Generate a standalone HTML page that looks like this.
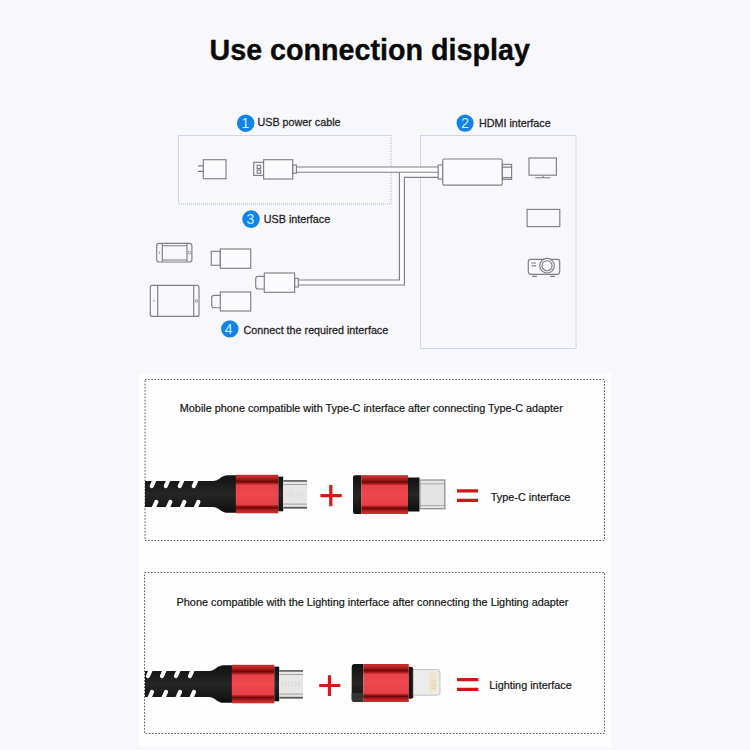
<!DOCTYPE html>
<html><head><meta charset="utf-8">
<style>
html,body{margin:0;padding:0;width:750px;height:750px;overflow:hidden;background:#f7f7fc;}
svg{position:absolute;left:0;top:0;display:block;}
text{font-family:"Liberation Sans",sans-serif;}
</style></head>
<body>
<svg width="750" height="750" viewBox="0 0 750 750">
<defs>
  <linearGradient id="redA" x1="0" y1="0" x2="0" y2="1">
    <stop offset="0" stop-color="#c43030"/>
    <stop offset="0.06" stop-color="#c02828"/>
    <stop offset="0.12" stop-color="#a01616"/>
    <stop offset="0.175" stop-color="#6a0808"/>
    <stop offset="0.23" stop-color="#b42222"/>
    <stop offset="0.27" stop-color="#e8424a"/>
    <stop offset="0.5" stop-color="#ee474c"/>
    <stop offset="0.77" stop-color="#e64046"/>
    <stop offset="0.815" stop-color="#a01818"/>
    <stop offset="0.855" stop-color="#6a0808"/>
    <stop offset="0.9" stop-color="#a41818"/>
    <stop offset="0.95" stop-color="#c42a2a"/>
    <stop offset="1" stop-color="#c83434"/>
  </linearGradient>
  <linearGradient id="blk" x1="0" y1="0" x2="0" y2="1">
    <stop offset="0" stop-color="#111"/>
    <stop offset="0.5" stop-color="#262626"/>
    <stop offset="1" stop-color="#0e0e0e"/>
  </linearGradient>
</defs>

<!-- title highlight -->
<rect x="205" y="38" width="228" height="26" fill="#f9f9fb"/>
<text x="209.5" y="60.3" font-size="28.7" font-weight="bold" fill="#0a0a0a" stroke="#0a0a0a" stroke-width="0.35">Use connection display</text>

<!-- ===== top diagram ===== -->
<g fill="none" stroke="#96bed4" stroke-width="1" stroke-dasharray="1 1">
  <rect x="178.5" y="135.5" width="212.5" height="68.5"/>
  <rect x="420.5" y="135.5" width="155.5" height="213"/>
</g>

<!-- line art -->
<path d="M296.4 167H438.2V177.4H404.4V285H298.3V280H399.4V172.2H296.4Z" fill="#fcfcfe"/>
<g fill="none" stroke="#808080" stroke-width="1.15">
  <!-- charger -->
  <rect x="203.3" y="159.7" width="22.7" height="19" fill="#fbfbfd"/>
  <path d="M198 165.8H203.3M198 171.4H203.3"/>
  <!-- usb A -->
  <rect x="253.7" y="162.3" width="9.9" height="13.1"/>
  <rect x="257.2" y="165.3" width="3.4" height="3.2"/>
  <rect x="257.2" y="170" width="3.4" height="3.2"/>
  <rect x="263.6" y="159.7" width="29.1" height="19.3" fill="#fbfbfd"/>
  <rect x="292.7" y="165" width="3.7" height="8.3"/>
  <!-- cables -->
  <path d="M296.4 167H438.2M296.4 172.2H438.2"/>
  <path d="M298.3 280H399.4V172.2"/>
  <path d="M298.3 285H404.4V177.4H438.2"/>
  <!-- hdmi -->
  <rect x="438.2" y="165" width="4.6" height="14"/>
  <rect x="442.8" y="159" width="59.5" height="26.1" rx="1.3" fill="#fbfbfd"/>
  <rect x="502.3" y="164.4" width="9.3" height="15"/>
  <path d="M502.3 167.1H511.6M502.3 177.6H511.6"/>
  <!-- monitor -->
  <rect x="529" y="158" width="27.4" height="17.2"/>
  <path d="M543 175.2V177.7M535.2 177.7H550.5"/>
  <!-- tv -->
  <rect x="527.1" y="209.4" width="32.7" height="17.2"/>
  <!-- projector -->
  <rect x="528.3" y="259.3" width="31.4" height="15" rx="2.5"/>
  <circle cx="547" cy="265.7" r="7.3" fill="#f7f7fc"/>
  <circle cx="547" cy="265.7" r="5"/>
  <path d="M531.5 263H536M531.5 265.8H536M532 276.4H537M550 276.4H555"/>
  <!-- phone -->
  <rect x="156.7" y="243.3" width="35.2" height="18.7" rx="2.5"/>
  <path d="M162.3 243.3V262M187 243.3V262M162.3 245.7H187M162.3 260H187"/>
  <!-- tablet -->
  <rect x="150.3" y="285.3" width="48.7" height="31.1" rx="2"/>
  <path d="M157.7 285.3V316.4M193.7 285.3V316.4"/>
  <circle cx="189.5" cy="252.6" r="1.4" stroke-width="0.8"/>
  <circle cx="196.3" cy="300.8" r="1.2" stroke-width="0.8"/>
  <path d="M159.6 251.5V253.8M153.9 300V301.6" stroke-width="0.8"/>
  <!-- connectors -->
  <rect x="211.3" y="251.3" width="9" height="14"/>
  <rect x="220.3" y="249" width="30.4" height="19.3" fill="#fbfbfd"/>
  <path d="M220.3 295.3H214.2Q211.7 295.3 211.7 297.8V305.2Q211.7 307.7 214.2 307.7H220.3"/>
  <rect x="220.3" y="292" width="30.4" height="19" fill="#fbfbfd"/>
  <path d="M264.3 276.3H258.2Q255.7 276.3 255.7 278.8V286.5Q255.7 289 258.2 289H264.3"/>
  <rect x="264.3" y="273" width="30.3" height="19.3" fill="#fbfbfd"/>
  <rect x="294.6" y="278.4" width="3.7" height="8.6"/>
</g>

<g fill="#1284e8">
  <circle cx="245.7" cy="123.2" r="8.7"/>
  <circle cx="465.1" cy="123.1" r="8.6"/>
  <circle cx="251" cy="219.1" r="8.8"/>
  <circle cx="229.8" cy="328.9" r="8.7"/>
</g>
<g fill="#c8f2ff" font-size="14" text-anchor="middle">
  <text x="245.3" y="127.7">1</text>
  <text x="465.1" y="127.8">2</text>
  <text x="250.5" y="223.7">3</text>
  <text x="228.6" y="333.7">4</text>
</g>
<g fill="#1e1e1e" font-size="10.75" stroke="#1e1e1e" stroke-width="0.26">
  <text x="257.5" y="125.7">USB power cable</text>
  <text x="479" y="127">HDMI interface</text>
  <text x="263.8" y="223.3">USB interface</text>
  <text x="243.6" y="333.7">Connect the required interface</text>
</g>

<!-- ===== bottom panels ===== -->
<rect x="139" y="374" width="472" height="372" fill="#fefefe"/>
<g fill="none" stroke="#5a5a5a" stroke-width="1" stroke-dasharray="1.6 1.6">
  <rect x="145" y="379.5" width="459.5" height="161"/>
  <rect x="144.5" y="572.5" width="460" height="161"/>
</g>
<!-- cable 1 -->
<g id="cab">
  <path d="M145 481H212.5C219.5 481 220.5 475.2 228 475.2H237V512.8H228C220.5 512.8 219.5 507.1 212.5 507.1H145Z" fill="url(#blk)"/>
  <g stroke="#fefefe" stroke-width="4.2" stroke-linecap="round" fill="none">
    <path d="M155.8 477L151.8 486M169.8 477L165.8 486M183.8 477L179.8 486M197.8 477L193.8 486"/>
    <path d="M156.3 502L152.3 511M170.3 502L166.3 511M184.3 502L180.3 511M198.3 502L194.3 511"/>
  </g>
  <rect x="235.8" y="474.8" width="42.5" height="38.5" fill="url(#redA)"/>
  <rect x="278.3" y="476.6" width="4.9" height="34.7" fill="url(#blk)"/>
  <rect x="283.2" y="480" width="23.8" height="29" fill="#e6e6e6"/>
  <rect x="283.2" y="480" width="23.8" height="1.8" fill="#6a6a6a"/>
  <rect x="283.2" y="484" width="23.8" height="0.9" fill="#9a9a9a"/>
  <rect x="283.2" y="503.6" width="23.8" height="1" fill="#a0a0a0"/>
  <rect x="283.2" y="506.8" width="23.8" height="1.8" fill="#5a5a5a"/>
  <path d="M286 491.5V496.5M286 494H290M290 491.5V496.5M292.5 491.5V495Q292.5 496.5 294.5 496.5Q296.5 496.5 296.5 495V491.5M299 496.5V491.5L303 496.5V491.5" stroke="#d6d6d6" stroke-width="0.65" fill="none"/>
</g>
<!-- plus 1 -->
<path d="M320.4 495.7H341.7M330.8 485V506.3" stroke="#d41a1a" stroke-width="3.2"/>
<!-- adapter 1 -->
<path d="M355 475.2H361.5V514H355Q353 514 353 512V477.2Q353 475.2 355 475.2Z" fill="url(#blk)"/>
<rect x="361.5" y="475.2" width="46.5" height="38.8" fill="url(#redA)"/>
<rect x="408" y="477.5" width="11.5" height="34" fill="url(#blk)"/>
<rect x="419.9" y="480" width="25" height="28.8" fill="#e4e4e4" stroke="#777" stroke-width="1"/>
<path d="M420 483.8H445M420 505.6H445" stroke="#9a9a9a" stroke-width="0.8"/>
<!-- equals 1 -->
<path d="M457 490.8H478M457 500.4H478" stroke="#cc1818" stroke-width="3.2"/>

<!-- cable 2 -->
<g transform="translate(-4 190)">
  <path d="M149 481H212.5C219.5 481 220.5 475.2 228 475.2H237V512.8H228C220.5 512.8 219.5 506.9 212.5 506.9H149Z" fill="url(#blk)"/>
  <g stroke="#fefefe" stroke-width="4.2" stroke-linecap="round" fill="none">
    <path d="M156 477L152 486M170 477L166 486M184 477L180 486M198 477L194 486"/>
    <path d="M156 502L152 511M170 502L166 511M184 502L180 511M198 502L194 511"/>
  </g>
  <rect x="235.8" y="474.8" width="42.5" height="38.5" fill="url(#redA)"/>
  <rect x="278.3" y="476.6" width="4.9" height="34.7" fill="url(#blk)"/>
  <rect x="283.2" y="480" width="23.8" height="29" fill="#e6e6e6"/>
  <rect x="283.2" y="480" width="23.8" height="1.8" fill="#6a6a6a"/>
  <rect x="283.2" y="484" width="23.8" height="0.9" fill="#9a9a9a"/>
  <rect x="283.2" y="503.6" width="23.8" height="1" fill="#a0a0a0"/>
  <rect x="283.2" y="506.8" width="23.8" height="1.8" fill="#5a5a5a"/>
  <path d="M286 491.5V496.5M286 494H290M290 491.5V496.5M292.5 491.5V495Q292.5 496.5 294.5 496.5Q296.5 496.5 296.5 495V491.5M299 496.5V491.5L303 496.5V491.5" stroke="#d6d6d6" stroke-width="0.65" fill="none"/>
</g>
<!-- plus 2 -->
<path d="M319.2 685.5H340.3M329.5 675.2V696" stroke="#d41a1a" stroke-width="3.2"/>
<!-- adapter 2 -->
<path d="M354.7 664H363.4V702H354.7Q351.7 702 351.7 699V667Q351.7 664 354.7 664Z" fill="url(#blk)"/>
<path d="M351.7 693H363.4V702H354.7Q351.7 702 351.7 699Z" fill="#343434"/>
<rect x="363.4" y="664" width="45.3" height="38" fill="url(#redA)"/>
<path d="M408.7 666.7H410.8Q413.3 666.7 413.3 669.2V696.2Q413.3 698.7 410.8 698.7H408.7Z" fill="#241010"/>
<path d="M413.3 669.6H437.2Q440 669.6 440 672.4V692.4Q440 695.2 437.2 695.2H413.3Z" fill="#ececec" stroke="#b8b8b8" stroke-width="0.8"/>
<rect x="428.6" y="672.5" width="8" height="20" rx="2" fill="#eee6d2"/>
<path d="M431 680.5H436M431 682.5H436M431 684.5H436M431 686.5H436M431 688.5H436" stroke="#e6d6aa" stroke-width="0.9"/>
<!-- equals 2 -->
<path d="M457 679.6H478.4M457 689.4H478.4" stroke="#cc1818" stroke-width="3.2"/>

<g fill="#141414" font-size="10.85" stroke="#141414" stroke-width="0.2">
  <text x="179.8" y="412.2">Mobile phone compatible with Type-C interface after connecting Type-C adapter</text>
  <text x="176.6" y="606.4">Phone compatible with the Lighting interface after connecting the Lighting adapter</text>
  <text x="490.8" y="500.7">Type-C interface</text>
  <text x="489.2" y="688.5">Lighting interface</text>
</g>

</svg>
</body></html>
